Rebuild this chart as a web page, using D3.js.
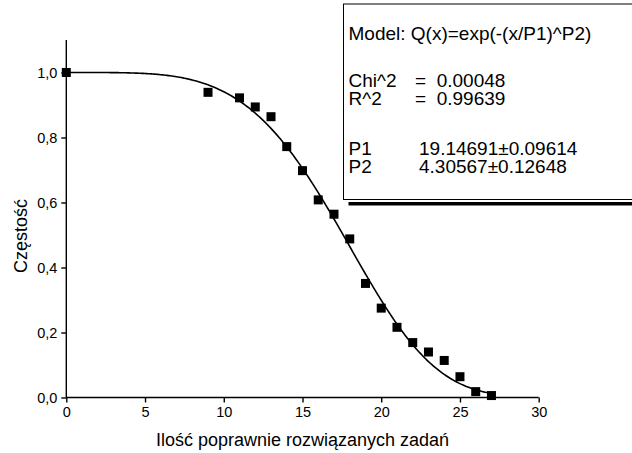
<!DOCTYPE html>
<html lang="pl">
<head>
  <meta charset="UTF-8">
  <title>Częstość</title>
  <style>
    body { margin: 0; background: #fff; }
    svg { display: block; font-family: "Liberation Sans", Arial, sans-serif; }
    .axis path, .axis line { stroke: #000; stroke-width: 1.4; }
    .axis text { font-size: 14.5px; fill: #000; font-family: "Liberation Sans", Arial, sans-serif; }
    .box text { white-space: pre; }
  </style>
</head>
<body>
  <div id="chart"></div>
  <script src="https://cdn.jsdelivr.net/npm/d3@7"></script>
  <script>
    // punkty pomiarowe
    var xs = [0, 9, 11, 12, 13, 14, 15, 16, 17, 18, 19, 20, 21, 22, 23, 24, 25, 26, 27];
    var ys = [1.0, 0.939, 0.922, 0.894, 0.864, 0.772, 0.698, 0.608, 0.564, 0.488,
              0.351, 0.275, 0.216, 0.169, 0.140, 0.114, 0.064, 0.018, 0.006];

    // parametry dopasowania (z ramki)
    var P1 = 19.14691, P2 = 4.30567;
    var modelText = 'Model: Q(x)=exp(-(x/P1)^P2)';
    var statNames = ['Chi^2', 'R^2'];
    var statValues = ['=  0.00048', '=  0.99639'];
    var parNames = ['P1', 'P2'];
    var parValues = ['19.14691\u00b10.09614', '4.30567\u00b10.12648'];

    var xTicks = [0, 5, 10, 15, 20, 25, 30];
    var yTicks = [0, 0.2, 0.4, 0.6, 0.8, 1.0];

    var width = 632, height = 453;
    var svg = d3.select('#chart').append('svg')
      .attr('width', width)
      .attr('height', height);

    var x = d3.scaleLinear().domain([0, 30]).range([66.3, 538.7]);
    var y = d3.scaleLinear().domain([0, 1.1]).range([397.5, 40]);

    var fmt = function (d) { return d3.format('.1f')(d).replace('.', ','); };

    // minor ticks + major ticks
    var gx = svg.append('g').attr('class', 'axis')
      .attr('transform', 'translate(0,' + y(0) + ')');
    gx.call(d3.axisBottom(x).tickValues(d3.range(2.5, 30, 5)).tickSize(3).tickFormat(''));
    gx.call(d3.axisBottom(x).tickValues(xTicks).tickSize(5).tickSizeOuter(0).tickPadding(4).tickFormat(d3.format('d')));

    var gy = svg.append('g').attr('class', 'axis')
      .attr('transform', 'translate(' + x(0) + ',0)');
    gy.call(d3.axisLeft(y).tickValues([0.1, 0.3, 0.5, 0.7, 0.9, 1.1]).tickSize(3).tickFormat(''));
    gy.call(d3.axisLeft(y).tickValues(yTicks).tickSize(5).tickSizeOuter(0).tickPadding(4).tickFormat(fmt));
    gy.selectAll('path.domain').attr('d', 'M0,' + y(1.1) + 'V' + y(0));
    gx.selectAll('path.domain').attr('d', 'M' + x(0) + ',0H' + x(30));

    // tytuły osi
    svg.append('text')
      .attr('x', (x(0) + x(30)) / 2)
      .attr('y', 446)
      .attr('text-anchor', 'middle')
      .style('font-size', '18px')
      .text('Ilość poprawnie rozwiązanych zadań');

    svg.append('text')
      .attr('transform', 'translate(21,236) rotate(-90)')
      .attr('text-anchor', 'middle')
      .attr('dy', '0.35em')
      .style('font-size', '18px')
      .text('Częstość');

    // krzywa dopasowania
    var fitX = d3.range(0, 27.01, 0.1);
    var line = d3.line()
      .x(function (d) { return x(d); })
      .y(function (d) { return y(Math.exp(-Math.pow(d / P1, P2))); });
    svg.append('path')
      .datum(fitX)
      .attr('d', line)
      .attr('fill', 'none')
      .attr('stroke', '#000')
      .attr('stroke-width', 1.6);

    // punkty
    var sq = 9;
    svg.append('g').selectAll('rect')
      .data(xs)
      .enter()
      .append('rect')
      .attr('x', function (d) { return x(d) - sq / 2; })
      .attr('y', function (d, i) { return y(ys[i]) - sq / 2; })
      .attr('width', sq)
      .attr('height', sq)
      .attr('fill', '#000');

    // ramka z wynikami
    var bx = 343.5, by = 4, bw = 300, bh = 195.5;
    svg.append('rect')
      .attr('x', bx + 5).attr('y', by + bh + 2.5)
      .attr('width', bw).attr('height', 3.5)
      .attr('fill', '#000');
    svg.append('rect')
      .attr('x', bx).attr('y', by)
      .attr('width', bw).attr('height', bh)
      .attr('fill', '#fff')
      .attr('stroke', '#000')
      .attr('stroke-width', 1);

    var box = svg.append('g').attr('class', 'box').style('font-size', '19px');
    box.append('text').attr('x', 348.5).attr('y', 33).attr('dy', '0.35em').text(modelText);

    // kolumna w kilku wierszach jako jeden tekst
    function column(lines, px, py) {
      var t = box.append('text').attr('x', px).attr('y', py).attr('dy', '0.35em');
      lines.forEach(function (s, i) {
        t.append('tspan').attr('x', px).attr('dy', i === 0 ? '0.35em' : '18px').text(s);
      });
    }
    column(statNames, 348.5, 80);
    column(statValues, 415, 80);
    column(parNames, 348.5, 148);
    column(parValues, 419, 148);
  </script>
</body>
</html>
